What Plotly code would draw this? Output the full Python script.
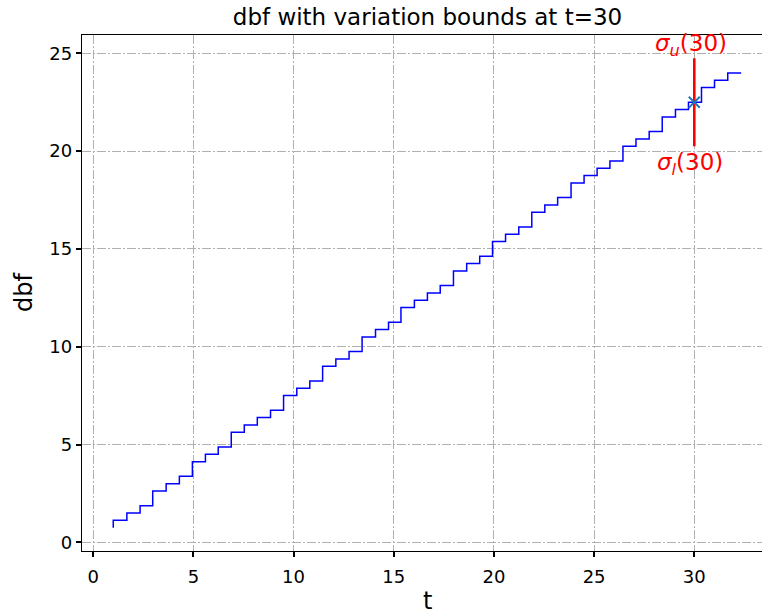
import plotly.graph_objects as go

# Demand bound function: step instants and the dbf level reached at each one
step_t = [1.0, 1.68, 2.34, 2.97, 3.64, 4.30, 4.95, 5.60, 6.24, 6.89,
          7.54, 8.19, 8.85, 9.50, 10.16, 10.81, 11.45, 12.11, 12.77, 13.42,
          14.09, 14.74, 15.36, 16.03, 16.68, 17.32, 17.98, 18.64, 19.29, 19.93,
          20.58, 21.24, 21.89, 22.54, 23.18, 23.85, 24.50, 25.15, 25.79, 26.44,
          27.09, 27.75, 28.40, 29.06, 29.71, 30.36, 31.01, 31.67, 32.34]
dbf_vals = [0.75, 1.125, 1.5, 1.875, 2.625, 3.0, 3.375, 4.125, 4.5, 4.875,
            5.625, 6.0, 6.375, 6.75, 7.5, 7.875, 8.25, 9.0, 9.375, 9.75,
            10.5, 10.875, 11.25, 12.0, 12.375, 12.75, 13.125, 13.875, 14.25, 14.625,
            15.375, 15.75, 16.125, 16.875, 17.25, 17.625, 18.375, 18.75, 19.125, 19.5,
            20.25, 20.625, 21.0, 21.75, 22.125, 22.5, 23.25, 23.625, 24.0]

# Evaluation point and variation bounds
t_eval = 30
dbf_at_eval = 22.5
sigma_lower = 20.25
sigma_upper = 24.75

x_ticks = [0, 5, 10, 15, 20, 25, 30]
y_ticks = [0, 5, 10, 15, 20, 25]

FONT = "DejaVu Sans"

fig = go.Figure()

fig.add_trace(go.Scatter(
    x=step_t, y=dbf_vals, mode="lines",
    line=dict(color="#0000ff", width=1.5, shape="vh"),
    showlegend=False, hoverinfo="skip",
))

fig.add_trace(go.Scatter(
    x=[t_eval, t_eval], y=[sigma_lower, sigma_upper], mode="lines",
    line=dict(color="#ff0000", width=2.6),
    showlegend=False, hoverinfo="skip",
))

fig.add_trace(go.Scatter(
    x=[t_eval], y=[dbf_at_eval], mode="markers",
    marker=dict(symbol="x-thin", size=11, color="#1f77b4",
                line=dict(color="#1f77b4", width=1.9)),
    showlegend=False, hoverinfo="skip",
))

fig.add_annotation(
    x=t_eval, y=sigma_upper, xref="x", yref="y",
    text="<i>σ<sub>u</sub></i>(30)", showarrow=False,
    xanchor="center", yanchor="bottom", yshift=-4, xshift=-3,
    font=dict(family=FONT, size=23, color="#ff0000"),
)
fig.add_annotation(
    x=t_eval, y=sigma_lower, xref="x", yref="y",
    text="<i>σ<sub>l</sub></i>(30)", showarrow=False,
    xanchor="center", yanchor="top", yshift=-1, xshift=-4,
    font=dict(family=FONT, size=23, color="#ff0000"),
)

# Axis titles
fig.add_annotation(
    x=(427.5 - 82) / 680, y=-50 / 516, xref="paper", yref="paper",
    text="t", showarrow=False, xanchor="center", yanchor="middle",
    font=dict(family=FONT, size=24, color="black"),
)
fig.add_annotation(
    x=-58 / 680, y=0.5, xref="paper", yref="paper",
    text="dbf", showarrow=False, textangle=-90,
    xanchor="center", yanchor="middle",
    font=dict(family=FONT, size=24, color="black"),
)

grid_dash = "9px,2.3px,1.4px,2.3px"

fig.update_layout(
    width=762, height=616,
    margin=dict(l=82, r=0, t=35, b=65),
    paper_bgcolor="white", plot_bgcolor="white",
    font=dict(family=FONT, color="black"),
    title=dict(
        text="dbf with variation bounds at t=30",
        x=427.5 / 762, xref="container", xanchor="center",
        y=1 - 17 / 616, yref="container", yanchor="middle",
        font=dict(family=FONT, size=23, color="black"),
    ),
    xaxis=dict(
        range=[-0.56, 33.38], tickvals=x_ticks,
        ticktext=[str(v) for v in x_ticks],
        showgrid=True, gridcolor="#b0b0b0", gridwidth=1.4, griddash=grid_dash,
        zeroline=False, showline=True, linecolor="black", linewidth=1.4,
        mirror=True, ticks="outside", ticklen=5, tickwidth=2.2, tickcolor="black",
        ticklabelstandoff=4,
        tickfont=dict(family=FONT, size=18, color="black"),
    ),
    yaxis=dict(
        range=[-0.445, 25.94], tickvals=y_ticks,
        ticktext=[str(v) for v in y_ticks],
        showgrid=True, gridcolor="#b0b0b0", gridwidth=1.4, griddash=grid_dash,
        zeroline=False, showline=True, linecolor="black", linewidth=1.4,
        mirror=False, ticks="outside", ticklen=5, tickwidth=2.2, tickcolor="black",
        tickfont=dict(family=FONT, size=18, color="black"),
    ),
)

fig.write_html("out.html")
